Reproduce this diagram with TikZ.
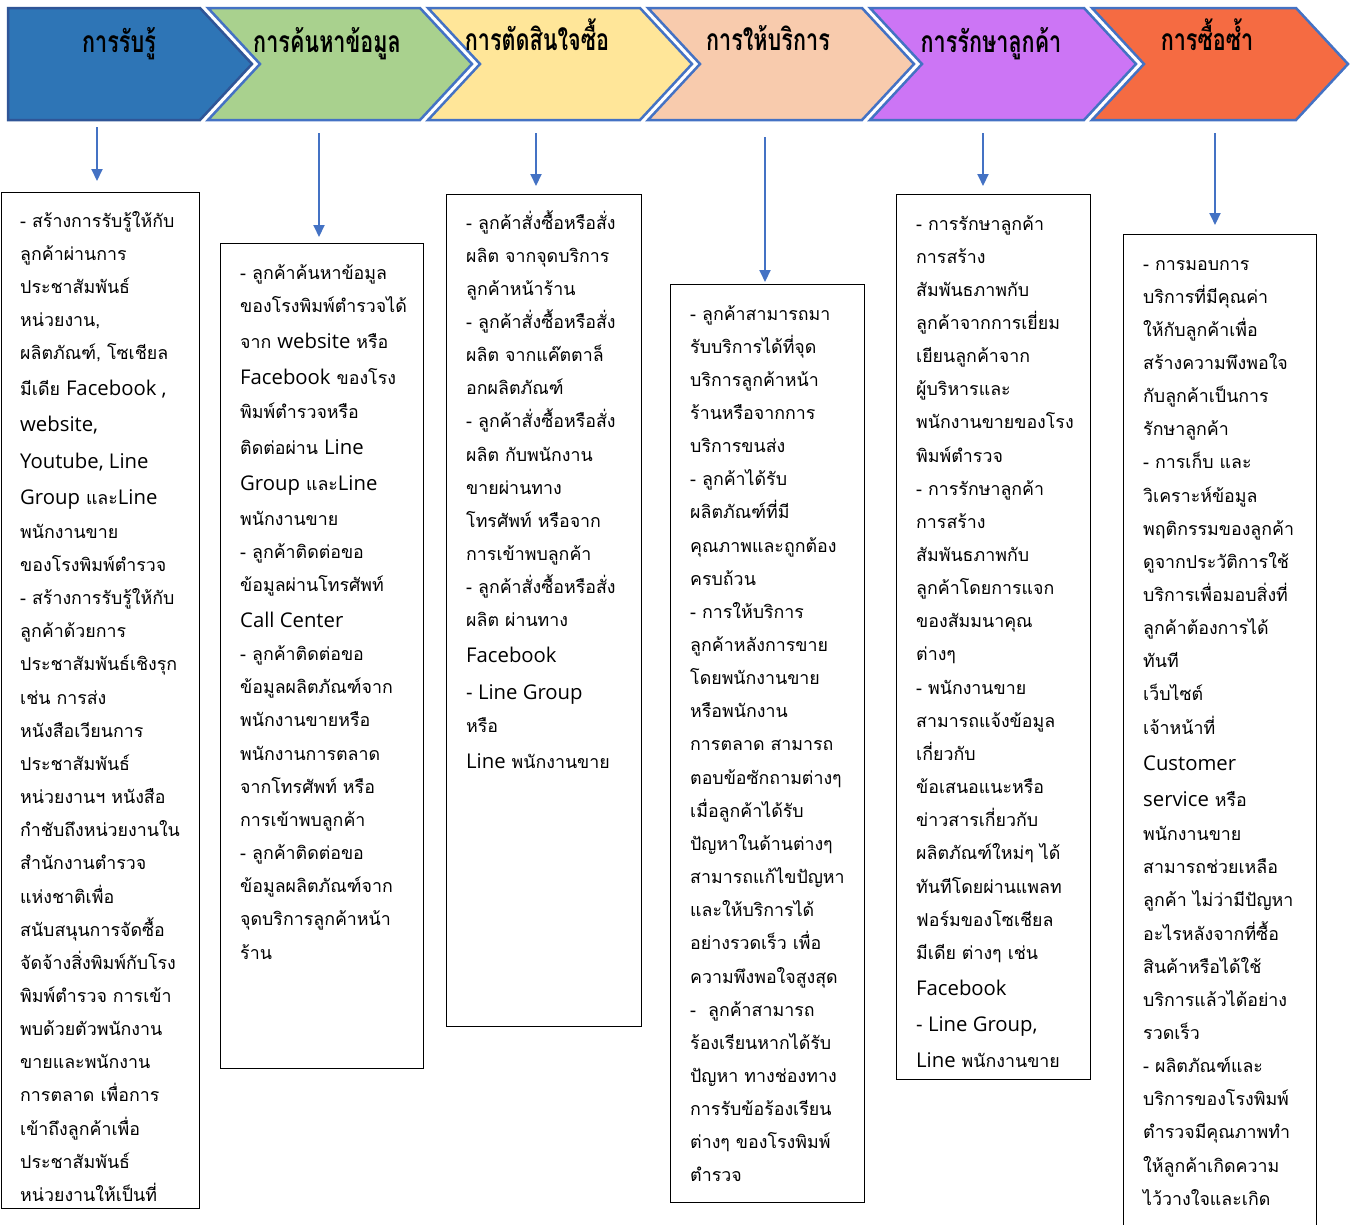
\documentclass[tikz,border=0pt]{standalone}
\usepackage{fontspec}
\usetikzlibrary{arrows.meta}
\newfontfamily\thaifont[Script=Thai]{Loma}
\newfontfamily\latfont{Open Sans}
\definecolor{cblue}{HTML}{2E75B6}
\definecolor{cblueedge}{HTML}{2F5597}
\definecolor{cgreen}{HTML}{A9D18E}
\definecolor{cyellow}{HTML}{FFE699}
\definecolor{cpeach}{HTML}{F8CBAD}
\definecolor{cpurple}{HTML}{CC75F5}
\definecolor{corange}{HTML}{F56B42}
\definecolor{cedge}{HTML}{4472C4}
\newcommand\Ln[1]{\hbox{#1}}
\newcommand\LL[1]{\vskip3pt\hbox{#1}}
\newcommand\lat[1]{{\latfont\fontsize{20.3}{33}\selectfont #1}}
\newcommand\Lines[1]{\vtop{\baselineskip=33.15pt\lineskiplimit=-1000pt\lineskip=0pt #1}}
\newcommand\Ttl[1]{\scalebox{0.72}[1]{#1}}
\tikzset{
  chev/.style={line width=2.5pt, draw=cedge, line join=miter},
  ttl/.style={anchor=base, inner sep=0pt, font=\thaifont\bfseries\fontsize{30}{34}\selectfont},
  bx/.style={draw=black, line width=1.2pt, anchor=north west, inner sep=0pt},
  txt/.style={anchor=base west, inner sep=0pt, font=\thaifont\fontsize{17.8}{33}\selectfont},
  arr/.style={draw=cedge, line width=2pt, -{Triangle[length=12pt,width=11pt]}}
}
\begin{document}
\begin{tikzpicture}[x=1pt,y=-1pt]
\useasboundingbox[fill=white] (0,0) rectangle (1354,1224);
% chevrons
\draw[chev, draw=cblueedge, fill=cblue] (8,8) -- (200,8) -- (252,64) -- (200,120) -- (8,120) -- cycle;
\draw[chev, fill=cgreen] (208,8) -- (420,8) -- (472,64) -- (420,120) -- (208,120) -- (260,64) -- cycle;
\draw[chev, fill=cyellow] (428,8) -- (640,8) -- (692,64) -- (640,120) -- (428,120) -- (480,64) -- cycle;
\draw[chev, fill=cpeach] (648,8) -- (862,8) -- (914,64) -- (862,120) -- (648,120) -- (700,64) -- cycle;
\draw[chev, fill=cpurple] (870,8) -- (1084,8) -- (1136,64) -- (1084,120) -- (870,120) -- (922,64) -- cycle;
\draw[chev, fill=corange] (1092,8) -- (1296,8) -- (1348,64) -- (1296,120) -- (1092,120) -- (1144,64) -- cycle;
% titles
\node[ttl] (h1) at (119,52) {\Ttl{การรับรู้}};
\node[ttl] (h2) at (327,52) {\Ttl{การค้นหาข้อมูล}};
\node[ttl] (h3) at (537,50) {\Ttl{การตัดสินใจซื้อ}};
\node[ttl] (h4) at (768,50) {\Ttl{การให้บริการ}};
\node[ttl] (h5) at (991,52) {\Ttl{การรักษาลูกค้า}};
\node[ttl] (h6) at (1207,50) {\Ttl{การซื้อซ้ำ}};
% boxes
\node[bx, minimum width=198pt, minimum height=1016pt] (b1) at (1,192) {};
\node[bx, minimum width=203pt, minimum height=825pt] (b2) at (220,243) {};
\node[bx, minimum width=195pt, minimum height=832pt] (b3) at (446,194) {};
\node[bx, minimum width=194pt, minimum height=918pt] (b4) at (670,284) {};
\node[bx, minimum width=194pt, minimum height=885pt] (b5) at (896,194) {};
\node[bx, minimum width=193pt, minimum height=1010pt] (b6) at (1123,234) {};
% arrows
\coordinate (s1) at (97,127);   \coordinate (e1) at (97,181);
\coordinate (s2) at (319,133);  \coordinate (e2) at (319,237);
\coordinate (s3) at (536,133);  \coordinate (e3) at (536,186);
\coordinate (s4) at (765,137);  \coordinate (e4) at (765,282);
\coordinate (s5) at (983,133);  \coordinate (e5) at (983,186);
\coordinate (s6) at (1215,133); \coordinate (e6) at (1215,225);
\draw[arr] (s1) -- (e1);
\draw[arr] (s2) -- (e2);
\draw[arr] (s3) -- (e3);
\draw[arr] (s4) -- (e4);
\draw[arr] (s5) -- (e5);
\draw[arr] (s6) -- (e6);
% texts
\begin{scope}
\clip (1,192) rectangle (199,1203);
\node[txt] (t1) at (20,227) {\Lines{%
\Ln{- สร้างการรับรู้ให้กับ}
\Ln{ลูกค้าผ่านการ}
\Ln{ประชาสัมพันธ์}
\Ln{หน่วยงาน,}
\Ln{ผลิตภัณฑ์, โซเชียล}
\LL{มีเดีย \lat{Facebook ,}}
\LL{\lat{website,}}
\LL{\lat{Youtube, Line}}
\LL{\lat{Group} และ\lat{Line}}
\vskip1pt
\Ln{พนักงานขาย}
\Ln{ของโรงพิมพ์ตำรวจ}
\Ln{- สร้างการรับรู้ให้กับ}
\Ln{ลูกค้าด้วยการ}
\Ln{ประชาสัมพันธ์เชิงรุก}
\Ln{เช่น การส่ง}
\Ln{หนังสือเวียนการ}
\Ln{ประชาสัมพันธ์}
\Ln{หน่วยงานฯ หนังสือ}
\Ln{กำชับถึงหน่วยงานใน}
\Ln{สำนักงานตำรวจ}
\Ln{แห่งชาติเพื่อ}
\Ln{สนับสนุนการจัดซื้อ}
\Ln{จัดจ้างสิ่งพิมพ์กับโรง}
\Ln{พิมพ์ตำรวจ การเข้า}
\Ln{พบด้วยตัวพนักงาน}
\Ln{ขายและพนักงาน}
\Ln{การตลาด เพื่อการ}
\Ln{เข้าถึงลูกค้าเพื่อ}
\Ln{ประชาสัมพันธ์}
\Ln{หน่วยงานให้เป็นที่}}};
\end{scope}
\node[txt] (t2) at (240,279) {\Lines{%
\Ln{- ลูกค้าค้นหาข้อมูล}
\Ln{ของโรงพิมพ์ตำรวจได้}
\LL{จาก \lat{website} หรือ}
\LL{\lat{Facebook} ของโรง}
\vskip1pt
\Ln{พิมพ์ตำรวจหรือ}
\LL{ติดต่อผ่าน \lat{Line}}
\LL{\lat{Group} และ\lat{Line}}
\vskip1pt
\Ln{พนักงานขาย}
\Ln{- ลูกค้าติดต่อขอ}
\Ln{ข้อมูลผ่านโทรศัพท์}
\LL{\lat{Call Center}}
\Ln{- ลูกค้าติดต่อขอ}
\Ln{ข้อมูลผลิตภัณฑ์จาก}
\Ln{พนักงานขายหรือ}
\Ln{พนักงานการตลาด}
\Ln{จากโทรศัพท์ หรือ}
\Ln{การเข้าพบลูกค้า}
\Ln{- ลูกค้าติดต่อขอ}
\Ln{ข้อมูลผลิตภัณฑ์จาก}
\Ln{จุดบริการลูกค้าหน้า}
\Ln{ร้าน}}};
\node[txt] (t3) at (466,229) {\Lines{%
\Ln{- ลูกค้าสั่งซื้อหรือสั่ง}
\Ln{ผลิต จากจุดบริการ}
\Ln{ลูกค้าหน้าร้าน}
\Ln{- ลูกค้าสั่งซื้อหรือสั่ง}
\Ln{ผลิต จากแค๊ตตาล็}
\Ln{อกผลิตภัณฑ์}
\Ln{- ลูกค้าสั่งซื้อหรือสั่ง}
\Ln{ผลิต กับพนักงาน}
\Ln{ขายผ่านทาง}
\Ln{โทรศัพท์ หรือจาก}
\Ln{การเข้าพบลูกค้า}
\Ln{- ลูกค้าสั่งซื้อหรือสั่ง}
\Ln{ผลิต ผ่านทาง}
\LL{\lat{Facebook}}
\LL{\lat{- Line Group}}
\Ln{หรือ}
\LL{\lat{Line} พนักงานขาย}}};
\node[txt] (t4) at (690,320) {\Lines{%
\Ln{- ลูกค้าสามารถมา}
\Ln{รับบริการได้ที่จุด}
\Ln{บริการลูกค้าหน้า}
\Ln{ร้านหรือจากการ}
\Ln{บริการขนส่ง}
\Ln{- ลูกค้าได้รับ}
\Ln{ผลิตภัณฑ์ที่มี}
\Ln{คุณภาพและถูกต้อง}
\Ln{ครบถ้วน}
\Ln{- การให้บริการ}
\Ln{ลูกค้าหลังการขาย}
\Ln{โดยพนักงานขาย}
\Ln{หรือพนักงาน}
\Ln{การตลาด สามารถ}
\Ln{ตอบข้อซักถามต่างๆ}
\Ln{เมื่อลูกค้าได้รับ}
\Ln{ปัญหาในด้านต่างๆ}
\Ln{สามารถแก้ไขปัญหา}
\Ln{และให้บริการได้}
\Ln{อย่างรวดเร็ว เพื่อ}
\Ln{ความพึงพอใจสูงสุด}
\Ln{-~~ลูกค้าสามารถ}
\Ln{ร้องเรียนหากได้รับ}
\Ln{ปัญหา ทางช่องทาง}
\Ln{การรับข้อร้องเรียน}
\Ln{ต่างๆ ของโรงพิมพ์}
\Ln{ตำรวจ}}};
\node[txt] (t5) at (916,230) {\Lines{%
\Ln{- การรักษาลูกค้า}
\Ln{การสร้าง}
\Ln{สัมพันธภาพกับ}
\Ln{ลูกค้าจากการเยี่ยม}
\Ln{เยียนลูกค้าจาก}
\Ln{ผู้บริหารและ}
\Ln{พนักงานขายของโรง}
\Ln{พิมพ์ตำรวจ}
\Ln{- การรักษาลูกค้า}
\Ln{การสร้าง}
\Ln{สัมพันธภาพกับ}
\Ln{ลูกค้าโดยการแจก}
\Ln{ของสัมมนาคุณ}
\Ln{ต่างๆ}
\Ln{- พนักงานขาย}
\Ln{สามารถแจ้งข้อมูล}
\Ln{เกี่ยวกับ}
\Ln{ข้อเสนอแนะหรือ}
\Ln{ข่าวสารเกี่ยวกับ}
\Ln{ผลิตภัณฑ์ใหม่ๆ ได้}
\Ln{ทันทีโดยผ่านแพลท}
\Ln{ฟอร์มของโซเชียล}
\Ln{มีเดีย ต่างๆ เช่น}
\LL{\lat{Facebook}}
\LL{\lat{- Line Group,}}
\LL{\lat{Line} พนักงานขาย}}};
\node[txt] (t6) at (1143,270) {\Lines{%
\Ln{- การมอบการ}
\Ln{บริการที่มีคุณค่า}
\Ln{ให้กับลูกค้าเพื่อ}
\Ln{สร้างความพึงพอใจ}
\Ln{กับลูกค้าเป็นการ}
\Ln{รักษาลูกค้า}
\Ln{- การเก็บ และ}
\Ln{วิเคราะห์ข้อมูล}
\Ln{พฤติกรรมของลูกค้า}
\Ln{ดูจากประวัติการใช้}
\Ln{บริการเพื่อมอบสิ่งที่}
\Ln{ลูกค้าต้องการได้}
\Ln{ทันที}
\Ln{เว็บไซต์}
\Ln{เจ้าหน้าที่}
\LL{\lat{Customer}}
\LL{\lat{service} หรือ}
\vskip1pt
\Ln{พนักงานขาย}
\Ln{สามารถช่วยเหลือ}
\Ln{ลูกค้า ไม่ว่ามีปัญหา}
\Ln{อะไรหลังจากที่ซื้อ}
\Ln{สินค้าหรือได้ใช้}
\Ln{บริการแล้วได้อย่าง}
\Ln{รวดเร็ว}
\Ln{- ผลิตภัณฑ์และ}
\Ln{บริการของโรงพิมพ์}
\Ln{ตำรวจมีคุณภาพทำ}
\Ln{ให้ลูกค้าเกิดความ}
\Ln{ไว้วางใจและเกิด}}};
\end{tikzpicture}
\end{document}
